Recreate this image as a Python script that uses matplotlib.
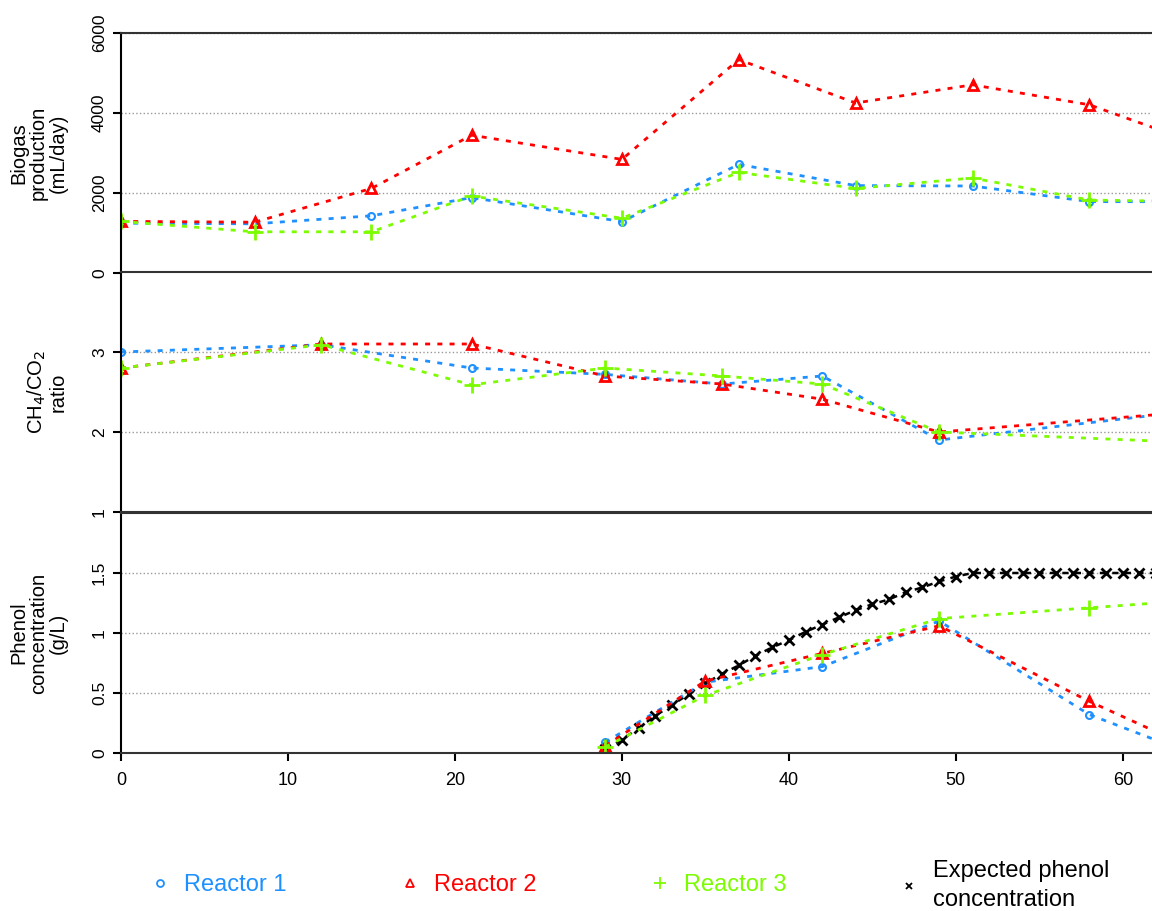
import numpy as np
import matplotlib
matplotlib.use('Agg')
import matplotlib.pyplot as plt
from matplotlib.lines import Line2D

plt.rcParams['font.family'] = ['Liberation Sans', 'DejaVu Sans']

# biogas production (mL/day), the last point lies past the right edge
days_gas = [0, 8, 15, 21, 30, 37, 44, 51, 58, 65]
gas_r1 = [1245, 1230, 1430, 1885, 1285, 2715, 2185, 2175, 1785, 1780]
gas_r2 = [1290, 1270, 2115, 3445, 2840, 5335, 4250, 4705, 4205, 3160]
gas_r3 = [1290, 1030, 1030, 1925, 1370, 2515, 2115, 2375, 1825, 1780]

# CH4/CO2 ratio
days_ratio = [0, 12, 21, 29, 36, 42, 49, 64]
ratio_r1 = [3.0, 3.09, 2.80, 2.72, 2.60, 2.70, 1.90, 2.26]
ratio_r2 = [2.80, 3.10, 3.10, 2.70, 2.60, 2.41, 2.00, 2.25]
ratio_r3 = [2.80, 3.09, 2.59, 2.80, 2.70, 2.60, 2.00, 1.87]

# phenol concentration (g/L)
days_phen = [29, 35, 42, 49, 58, 64]
phen_r1 = [0.09, 0.59, 0.72, 1.10, 0.32, 0.0]
phen_r2 = [0.06, 0.60, 0.83, 1.06, 0.43, 0.05]
phen_r3 = [0.05, 0.48, 0.82, 1.12, 1.21, 1.27]

days_exp = list(range(29, 64))
phen_exp = [0.03, 0.11, 0.21, 0.31, 0.40, 0.49, 0.58, 0.66, 0.73, 0.81, 0.88,
            0.94, 1.01, 1.07, 1.13, 1.19, 1.24, 1.28, 1.34, 1.38, 1.43, 1.47,
            1.50, 1.50, 1.50, 1.50, 1.50, 1.50, 1.50, 1.50, 1.50, 1.50, 1.50,
            1.50, 1.50]

c1 = '#1E90FF'
c2 = '#FF0000'
c3 = '#7CFC00'
c4 = '#000000'

fig = plt.figure(figsize=(11.52, 9.11), dpi=100)
left = 121 / 1152.0
width = 1.0 - left
tops = [33, 272, 513]
h = 240
axes = []
for t in tops:
    ax = fig.add_axes([left, 1 - (t + h) / 911.0, width, h / 911.0])
    axes.append(ax)
ax1, ax2, ax3 = axes

lw = 2
dots = (0, (1.8, 2.6))
def reactors(ax, x, y1, y2, y3):
    ax.plot(x, y1, ls=dots, lw=lw, color=c1, marker='o', ms=5, mfc='none', mew=1.5)
    ax.plot(x, y2, ls=dots, lw=lw, color=c2, marker='^', ms=7, mfc='none', mew=2)
    ax.plot(x, y3, ls=dots, lw=lw, color=c3, marker='+', ms=11, mew=2)

reactors(ax1, days_gas, gas_r1, gas_r2, gas_r3)
reactors(ax2, days_ratio, ratio_r1, ratio_r2, ratio_r3)
ax3.plot(days_exp, phen_exp, ls=(0, (2.5, 2.5)), lw=1.8, color=c4, marker='x', ms=7, mew=2)
reactors(ax3, days_phen, phen_r1, phen_r2, phen_r3)

ax1.set_ylim(0, 6000)
ax1.set_yticks([0, 2000, 4000, 6000])
ax2.set_ylim(1, 4)
ax2.set_yticks([1, 2, 3])
ax3.set_ylim(0, 2)
ax3.set_yticks([0, 0.5, 1, 1.5])
ax3.set_yticklabels(['0', '0.5', '1', '1.5'])

ax1.set_ylabel('Biogas\nproduction\n(mL/day)', fontsize=14.5, linespacing=1.05)
ax2.set_ylabel('CH$_4$/CO$_2$\nratio', fontsize=14.5, linespacing=1.05)
ax3.set_ylabel('Phenol\nconcentration\n(g/L)', fontsize=14.5, linespacing=1.05)

for ax in axes:
    ax.set_xlim(0, 61.75)
    ax.grid(axis='y', ls=':', color='#999999', lw=1)
    ax.set_axisbelow(True)
    ax.spines['right'].set_visible(False)
    for s in ['top', 'bottom']:
        ax.spines[s].set_linewidth(1.5)
        ax.spines[s].set_color('#333333')
    ax.spines['left'].set_linewidth(1.5)
    ax.tick_params(axis='y', direction='out', length=6, width=1.5, labelsize=12.5,
                   labelrotation=90, pad=4)
    for lab in ax.get_yticklabels():
        lab.set_va('center')
    ax.yaxis.set_label_coords(-0.052, 0.5)

for ax in [ax1, ax2]:
    ax.tick_params(axis='x', bottom=False, labelbottom=False)

ax3.set_xticks([0, 10, 20, 30, 40, 50, 60])
ax3.tick_params(axis='x', direction='out', length=6, width=1.5, labelsize=13, pad=8)

# legend, one entry at a time
entries = [
    (0.131, 'o', c1, 5, 'Reactor 1'),
    (0.348, '^', c2, 6, 'Reactor 2'),
    (0.565, '+', c3, 8, 'Reactor 3'),
    (0.781, 'x', c4, 5, 'Expected phenol\nconcentration'),
]
for xpos, mk, col, ms, lab in entries:
    hnd = Line2D([], [], ls='none', marker=mk, color=col, ms=ms,
                 mfc='none', mew=1.3)
    leg = fig.legend([hnd], [lab], loc='center left', bbox_to_anchor=(xpos, 0.028),
                     frameon=False, fontsize=17, labelcolor=[col], handlelength=0.8,
                     handletextpad=0.6, borderpad=0, borderaxespad=0)
    for txt in leg.get_texts():
        txt.set_linespacing(1.45)

plt.savefig('out.png', dpi=100)
